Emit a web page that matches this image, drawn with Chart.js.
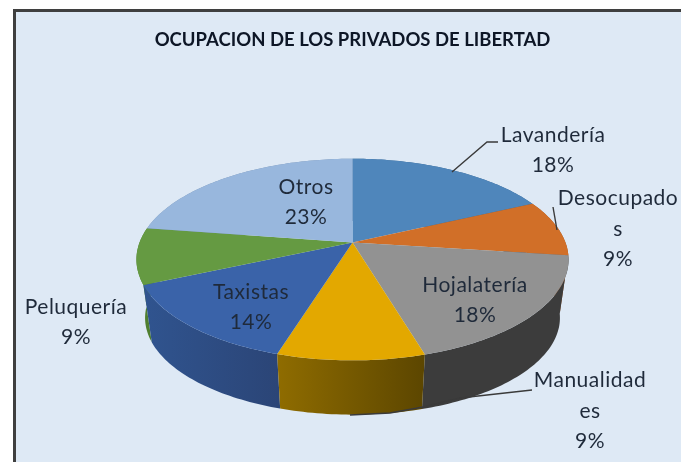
<!DOCTYPE html>
<html>
<head>
<meta charset="utf-8">
<script src="https://cdn.jsdelivr.net/npm/chart.js@4"></script>
<style>
    html, body { margin: 0; padding: 0; background: #fff; overflow: hidden; }
    #marco {
        position: absolute; left: 13px; top: 9px; width: 668px; height: 453px;
        box-sizing: border-box; background: #dee9f5;
        border-left: 3px solid #3f3f3f; border-top: 3px solid #3f3f3f;
        filter: blur(0.4px);
    }
    #chart1 { position: absolute; left: 0; top: 0; filter: blur(0.45px); }
</style>
</head>
<body>
<div id="marco"></div>
<canvas id="chart1" width="681" height="462"></canvas>
<script>
const categories = ['Lavandería', 'Desocupados', 'Hojalatería', 'Manualidades', 'Taxistas', 'Peluquería', 'Otros'];
const porcentajes = [18, 9, 18.4, 9.4, 13.6, 9, 22.6];

const coloresTapa = ['#4f86bb', '#d16f28', '#929292', '#e3a800', '#3a63a9', '#659a42', '#98b7dd'];
const coloresLado = [
    ['#3a6690', '#3a6690'],
    ['#9a5220', '#9a5220'],
    ['#3c3c3c', '#3c3c3c'],
    ['#8f6c00', '#5c4600'],
    ['#30548f', '#2b4577'],
    ['#4f7f2f', '#4f7f2f'],
    ['#7891b0', '#7891b0']
];
// el nombre de cada etiqueta, cortado como en el grafico original
const lineasNombre = [
    ['Lavandería'],
    ['Desocupado', 's'],
    ['Hojalatería'],
    ['Manualidad', 'es'],
    ['Taxistas'],
    ['Peluquería'],
    ['Otros']
];
const centroEtiqueta = [[553, 150], [618, 229], [475, 300], [590, 411], [251, 307], [76, 322], [306, 202]];
const guias = [
    [[452, 172], [487, 142], [498, 142]],
    [[557, 230], [553, 207]],
    [[350, 415], [390, 413], [423, 407], [460, 398], [532, 390]]
];

const FACTOR_Y = 0.46;
const PERSPECTIVA = 0.168;
const PROFUNDIDAD = 59;
const ENCOGE = 0.96;

// angulo del arco -> punto de la tapa (o del fondo) con algo de perspectiva
function proyectar(arc, ang, abajo) {
    const u = Math.cos(ang), v = Math.sin(ang);
    const d = 1 - PERSPECTIVA * v;
    const r = arc.outerRadius * (abajo ? ENCOGE : 1);
    return {
        x: arc.x + r * u / d,
        y: arc.y + r * FACTOR_Y * v / d + (abajo ? PROFUNDIDAD : 0)
    };
}

function dibujarLado(ctx, arc, i) {
    const ini = arc.startAngle, fin = arc.endAngle;
    const pasos = Math.ceil((fin - ini) / 0.02);
    const a = proyectar(arc, ini, false), b = proyectar(arc, fin, false);
    const grad = ctx.createLinearGradient(Math.min(a.x, b.x), 0, Math.max(a.x, b.x), 0);
    grad.addColorStop(0, coloresLado[i][0]);
    grad.addColorStop(1, coloresLado[i][1]);
    ctx.fillStyle = grad;
    ctx.beginPath();
    for (let k = 0; k <= pasos; k++) {
        const p = proyectar(arc, ini + (fin - ini) * k / pasos, false);
        ctx.lineTo(p.x, p.y);
    }
    for (let k = pasos; k >= 0; k--) {
        const p = proyectar(arc, ini + (fin - ini) * k / pasos, true);
        ctx.lineTo(p.x, p.y);
    }
    ctx.closePath();
    ctx.fill();
}

function dibujarTapa(ctx, arc) {
    const ini = arc.startAngle, fin = arc.endAngle;
    const pasos = Math.ceil((fin - ini) / 0.02);
    ctx.fillStyle = arc.options.backgroundColor;
    ctx.beginPath();
    ctx.moveTo(arc.x, arc.y);
    for (let k = 0; k <= pasos; k++) {
        const p = proyectar(arc, ini + (fin - ini) * k / pasos, false);
        ctx.lineTo(p.x, p.y);
    }
    ctx.closePath();
    ctx.fill();
}

const pastel3d = {
    id: 'pastel3d',
    beforeDatasetDraw(chart, args) {
        const ctx = chart.ctx;
        const arcos = args.meta.data;
        ctx.save();
        // primero los lados de atras, despues los de delante
        const orden = arcos.map((a, i) => i).sort((p, q) =>
            Math.sin((arcos[p].startAngle + arcos[p].endAngle) / 2) -
            Math.sin((arcos[q].startAngle + arcos[q].endAngle) / 2));
        orden.forEach(i => dibujarLado(ctx, arcos[i], i));
        arcos.forEach(a => dibujarTapa(ctx, a));
        ctx.restore();
        return false;
    },
    afterDatasetsDraw(chart) {
        const ctx = chart.ctx;
        ctx.save();
        ctx.strokeStyle = '#3a3a3a';
        ctx.lineWidth = 1.4;
        guias.forEach(g => {
            ctx.beginPath();
            g.forEach(p => ctx.lineTo(p[0], p[1]));
            ctx.stroke();
        });
        ctx.fillStyle = '#1f2a3a';
        ctx.font = '21px Lato';
        ctx.letterSpacing = '0.5px';
        ctx.textAlign = 'center';
        ctx.textBaseline = 'middle';
        lineasNombre.forEach((nombre, i) => {
            const lineas = nombre.concat(Math.round(porcentajes[i]) + '%');
            lineas.forEach((t, j) => {
                const y = centroEtiqueta[i][1] + (j - (lineas.length - 1) / 2) * 30.5;
                ctx.fillText(t, centroEtiqueta[i][0], y);
            });
        });
        ctx.restore();
    }
};

new Chart(document.getElementById('chart1'), {
    type: 'pie',
    data: {
        labels: categories,
        datasets: [{
            data: porcentajes,
            backgroundColor: coloresTapa,
            borderWidth: 0
        }]
    },
    options: {
        responsive: false,
        animation: false,
        radius: 213,
        layout: { padding: { left: 24, bottom: 28 } },
        plugins: {
            legend: { display: false },
            tooltip: { enabled: false },
            title: {
                display: true,
                text: 'OCUPACION DE LOS PRIVADOS DE LIBERTAD',
                color: '#0d1626',
                fullSize: false,
                font: { family: 'Lato', size: 18.5, weight: 'bold' },
                padding: { top: 29, bottom: 0 }
            }
        }
    },
    plugins: [pastel3d]
});
</script>
</body>
</html>
